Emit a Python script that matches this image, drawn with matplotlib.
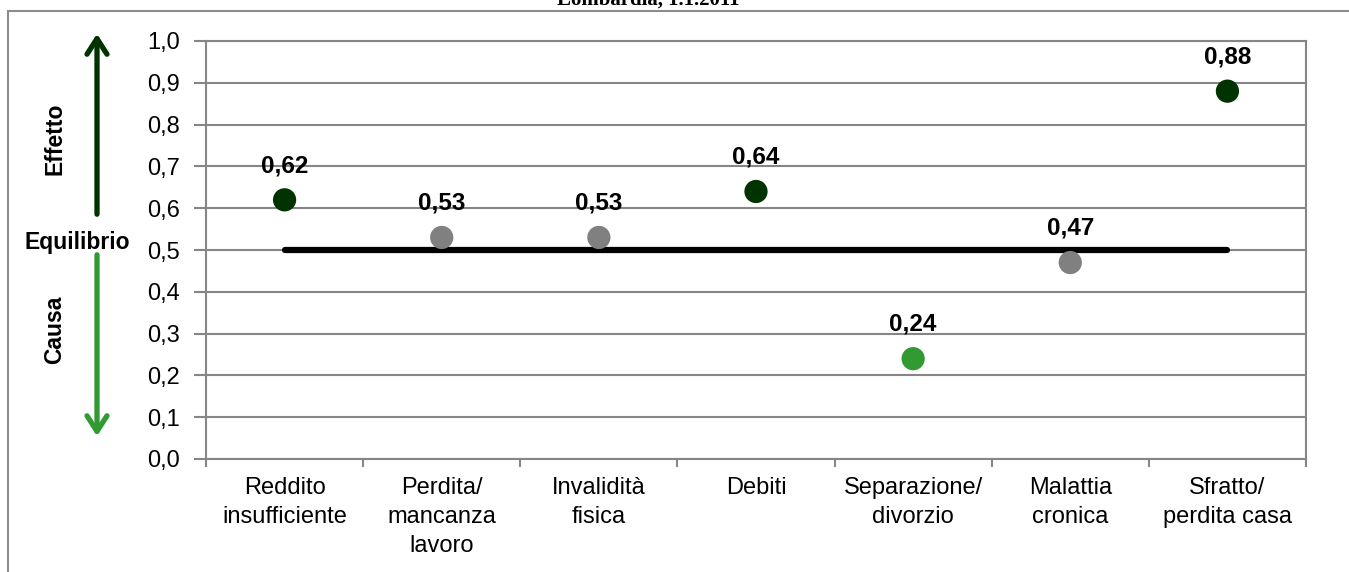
import matplotlib
matplotlib.use("Agg")
import matplotlib.pyplot as plt
from matplotlib.patches import FancyArrowPatch, Rectangle

plt.rcParams["font.family"] = ["Liberation Sans", "DejaVu Sans"]

categories = ["Reddito\ninsufficiente", "Perdita/\nmancanza\nlavoro", "Invalidità\nfisica",
              "Debiti", "Separazione/\ndivorzio", "Malattia\ncronica", "Sfratto/\nperdita casa"]
values = [0.62, 0.53, 0.53, 0.64, 0.24, 0.47, 0.88]
point_colors = ["#003300", "#808080", "#808080", "#003300", "#339933", "#808080", "#003300"]
equilibrium = 0.5
y_ticks = [0.0, 0.1, 0.2, 0.3, 0.4, 0.5, 0.6, 0.7, 0.8, 0.9, 1.0]

W, H = 1349, 572
fig = plt.figure(figsize=(W / 100, H / 100), dpi=100)

def fx(px):
    return px / W

def fy(py):
    return 1 - py / H

grid_col = "#868686"

# outer chart frame (runs off the right/bottom edge)
fig.patches.append(Rectangle((fx(8), fy(640)), fx(1400), fy(11) - fy(640),
                             transform=fig.transFigure, fill=False,
                             edgecolor="#8c8c8c", lw=1.5))

# title, mostly cut off at the top
fig.text(fx(648), fy(5), "Lombardia, 1.1.2011", ha="center", va="baseline",
         fontsize=15, fontweight="bold", family=["Liberation Serif", "DejaVu Serif"])

ax = fig.add_axes([fx(206), fy(459), fx(1306) - fx(206), fy(41) - fy(459)])
ax.set_xlim(0, len(categories))
ax.set_ylim(0, 1.0)

for y in y_ticks:
    ax.axhline(y, color=grid_col, lw=1.5, zorder=1)

ax.plot([0.5, len(categories) - 0.5], [equilibrium, equilibrium], color="black",
        lw=4.5, solid_capstyle="round", zorder=2)

xs = [i + 0.5 for i in range(len(categories))]
ax.scatter(xs, values, s=280, c=point_colors, zorder=3, linewidths=0)
for x, v in zip(xs, values):
    ax.annotate(f"{v:.2f}".replace(".", ","), (x, v), xytext=(0, 20),
                textcoords="offset points", ha="center", va="baseline",
                fontsize=17.5, fontweight="bold")

ax.set_yticks(y_ticks)
ax.set_yticklabels([f"{y:.1f}".replace(".", ",") for y in y_ticks], fontsize=17)
ax.set_xticks(range(len(categories) + 1))
ax.set_xticklabels([])
ax.set_xticks(xs, minor=True)
ax.set_xticklabels(categories, minor=True, fontsize=17, linespacing=1.42)
ax.tick_params(axis="x", which="minor", length=0, pad=13)
ax.tick_params(axis="x", which="major", length=6, color=grid_col, width=1.5)
ax.tick_params(axis="y", length=9, color=grid_col, width=1.5, pad=10)

for side, sp in ax.spines.items():
    sp.set_color(grid_col)
    sp.set_linewidth(1.5)

# left side annotations
fig.text(fx(55), fy(139), "Effetto", rotation=90, ha="center", va="center",
         fontsize=16.5, fontweight="bold")
fig.text(fx(77), fy(243), "Equilibrio", ha="center", va="center",
         fontsize=16.5, fontweight="bold")
fig.text(fx(55), fy(330), "Causa", rotation=90, ha="center", va="center",
         fontsize=16.5, fontweight="bold")

up = FancyArrowPatch((fx(97), fy(217)), (fx(97), fy(31)), transform=fig.transFigure,
                     arrowstyle="->,head_length=7,head_width=4.5", color="#003300",
                     lw=3.8, mutation_scale=1.6)
down = FancyArrowPatch((fx(97), fy(252)), (fx(97), fy(439)), transform=fig.transFigure,
                       arrowstyle="->,head_length=7,head_width=4.5", color="#339933",
                       lw=3.8, mutation_scale=1.6)
fig.patches.extend([up, down])

fig.savefig("out.png", dpi=100)
